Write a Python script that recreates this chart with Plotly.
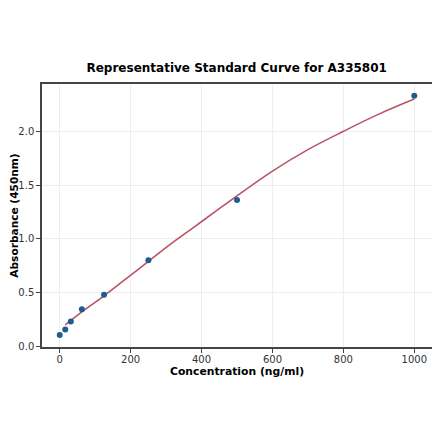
import plotly.graph_objects as go

# standard points
conc = [0, 15.6, 31.25, 62.5, 125, 250, 500, 1000]
absorb = [0.105, 0.157, 0.23, 0.345, 0.48, 0.80, 1.36, 2.33]

# fitted curve, read at a few concentrations
fit_conc = [15.6, 62.5, 125, 187.5, 250, 312.5, 375, 437.5, 500, 600, 700, 800, 900, 1000]
fit_abs = [0.20, 0.32, 0.47, 0.63, 0.79, 0.95, 1.10, 1.25, 1.40, 1.63, 1.83, 2.00, 2.16, 2.30]

x_ticks = [0, 200, 400, 600, 800, 1000]
y_ticks = [0.0, 0.5, 1.0, 1.5, 2.0]

fig = go.Figure()

fig.add_trace(go.Scatter(x=fit_conc, y=fit_abs, mode='lines',
                         line=dict(color='#b85466', width=1.6, shape='spline'),
                         showlegend=False, hoverinfo='skip'))
fig.add_trace(go.Scatter(x=conc, y=absorb, mode='markers',
                         marker=dict(color='#205c8e', size=6),
                         showlegend=False))

axis_common = dict(showline=True, linecolor='#444444', linewidth=1.5, mirror=True,
                   ticks='outside', ticklen=4, tickcolor='#444444', tickwidth=1,
                   showgrid=True, gridcolor='#eeeeee', gridwidth=1, zeroline=False,
                   automargin=False,
                   tickfont=dict(family='DejaVu Sans', size=10, color='#333333'))

# page body adds 8px, so the figure is 8px smaller and margins shifted
W, H = 432, 433
fig.update_layout(
    width=W, height=H,
    margin=dict(l=34, r=8, t=76, b=94),
    paper_bgcolor='white', plot_bgcolor='white',
    title=dict(text='<b>Representative Standard Curve for A335801</b>',
               x=228.7 / W, xanchor='center', y=1 - 60 / H, yanchor='middle',
               font=dict(family='DejaVu Sans', size=12, color='black')),
    xaxis=dict(range=[-50, 1050], tickvals=x_ticks, ticklabelstandoff=-2, **axis_common),
    yaxis=dict(range=[-0.006, 2.44], tickvals=y_ticks, tickformat='.1f',
               title=dict(text='<b>Absorbance (450nm)</b>',
                          font=dict(family='DejaVu Sans', size=10.6, color='black')),
               **axis_common),
)

# x title placed by hand (matplotlib-like spacing)
fig.add_annotation(text='<b>Concentration (ng/ml)</b>', xref='paper', yref='paper',
                   x=0.5, y=-24 / 263, xanchor='center', yanchor='middle', showarrow=False,
                   font=dict(family='DejaVu Sans', size=10.8, color='black'))

fig.write_html("out.html")
